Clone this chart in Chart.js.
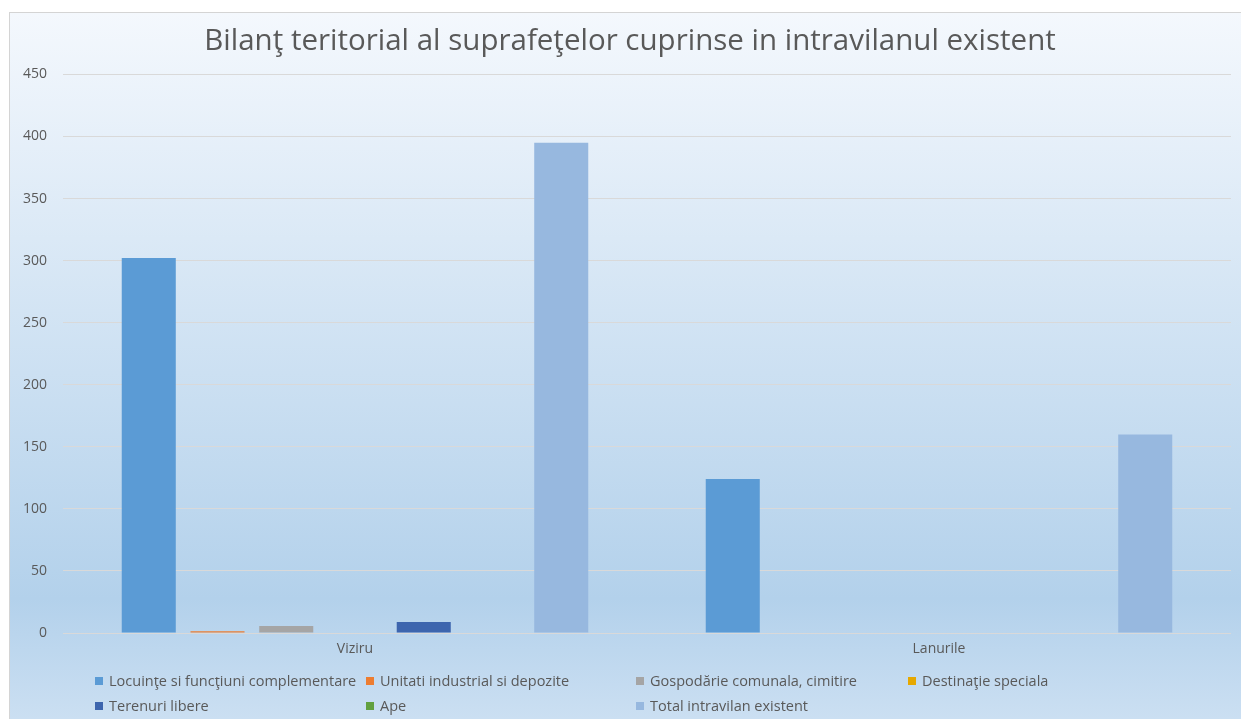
<!DOCTYPE html>
<html>
<head>
<meta charset="utf-8">
<script src="https://cdn.jsdelivr.net/npm/chart.js@4.4.0/dist/chart.umd.min.js"></script>
<style>
  html, body { margin: 0; padding: 0; background: #ffffff; width: 1241px; height: 719px; overflow: hidden; }
  #frame {
    position: absolute; left: 9px; top: 12px; width: 1231px; height: 706px;
    border-left: 1px solid #d4d4d4; border-top: 1px solid #d4d4d4;
    background: linear-gradient(to bottom, #f4f8fd 0%, #b3d1eb 83%, #cbdff2 100%);
  }
  #c { position: absolute; left: 0; top: 0; }
  .lg { position: absolute; font-family: 'Open Sans', sans-serif; font-size: 14.5px; color: #595959; white-space: nowrap; line-height: 18px; }
  .lg i { position: absolute; width: 8px; height: 8px; left: 0; top: 5px; }
  .lg span { position: absolute; left: 14px; top: 0; }
</style>
</head>
<body>
<div id="frame">
  <canvas id="c" width="1231" height="706"></canvas>
</div>
<div id="legend"></div>
<script>
const categories = ['Viziru', 'Lanurile'];
const titleText = 'Bilanţ teritorial al suprafeţelor cuprinse in intravilanul existent';
const seriesNames = [
  'Locuinţe si funcţiuni complementare',
  'Unitati industrial si depozite',
  'Gospodărie comunala, cimitire',
  'Destinaţie speciala',
  'Terenuri libere',
  'Ape',
  'Total intravilan existent'
];
const locuinte = [302, 124];
const unitati = [1.4, 0];
const gospodarie = [5.6, 0];
const destinatie = [0, 0];
const terenuri = [8.9, 0];
const ape = [0, 0];
const total = [395, 160];
const seriesColors = ['#5b9bd5', '#ed7d31', '#a5a5a5', '#e6a800', '#3d65ae', '#62a03f', '#97b8df'];
const yMin = 0, yMax = 450, yStep = 50;

const seriesValues = [locuinte, unitati, gospodarie, destinatie, terenuri, ape, total];

const datasets = seriesNames.map((name, i) => ({
  label: name,
  data: seriesValues[i],
  backgroundColor: seriesColors[i],
  borderWidth: 0,
  categoryPercentage: 0.824,
  barPercentage: 0.786
}));

// shift the title block slightly right, as in the reference
const titleShift = {
  id: 'titleShift',
  afterLayout(chart) {
    if (chart.titleBlock) chart.titleBlock.left += 19;
  }
};

new Chart(document.getElementById('c'), {
  type: 'bar',
  data: { labels: categories, datasets: datasets },
  plugins: [titleShift],
  options: {
    responsive: false,
    animation: false,
    devicePixelRatio: 1,
    layout: { padding: { left: 0, right: 10, top: 0, bottom: 0 } },
    plugins: {
      legend: { display: false },
      tooltip: { enabled: false },
      title: {
        display: true,
        text: titleText,
        color: '#595959',
        font: { family: 'Open Sans', size: 29.5, weight: 'normal' },
        padding: { top: 11, bottom: 15 }
      }
    },
    scales: {
      x: {
        grid: { display: false, drawTicks: false },
        border: { display: false },
        ticks: { color: '#595959', font: { family: 'Open Sans', size: 14 }, padding: 8 },
        afterFit: (s) => { s.height = 86; }
      },
      y: {
        min: yMin, max: yMax,
        grid: { color: '#d9d9d9', lineWidth: 1, drawTicks: false },
        border: { display: false },
        ticks: { stepSize: yStep, color: '#595959', font: { family: 'Open Sans', size: 14 }, padding: 16 },
        afterFit: (s) => { s.width = 53; }
      }
    }
  }
});

// Legend (HTML, grid layout like the reference)
const legendCols = [95, 366, 636, 908];
const legendRows = [681, 706];
const legendEl = document.getElementById('legend');
seriesNames.forEach((name, i) => {
  const col = i % 4, row = Math.floor(i / 4);
  const d = document.createElement('div');
  d.className = 'lg';
  d.style.left = legendCols[col] + 'px';
  d.style.top = (legendRows[row] - 9) + 'px';
  const sq = document.createElement('i');
  sq.style.background = seriesColors[i];
  const t = document.createElement('span');
  t.textContent = name;
  d.appendChild(sq); d.appendChild(t);
  legendEl.appendChild(d);
});
</script>
</body>
</html>
